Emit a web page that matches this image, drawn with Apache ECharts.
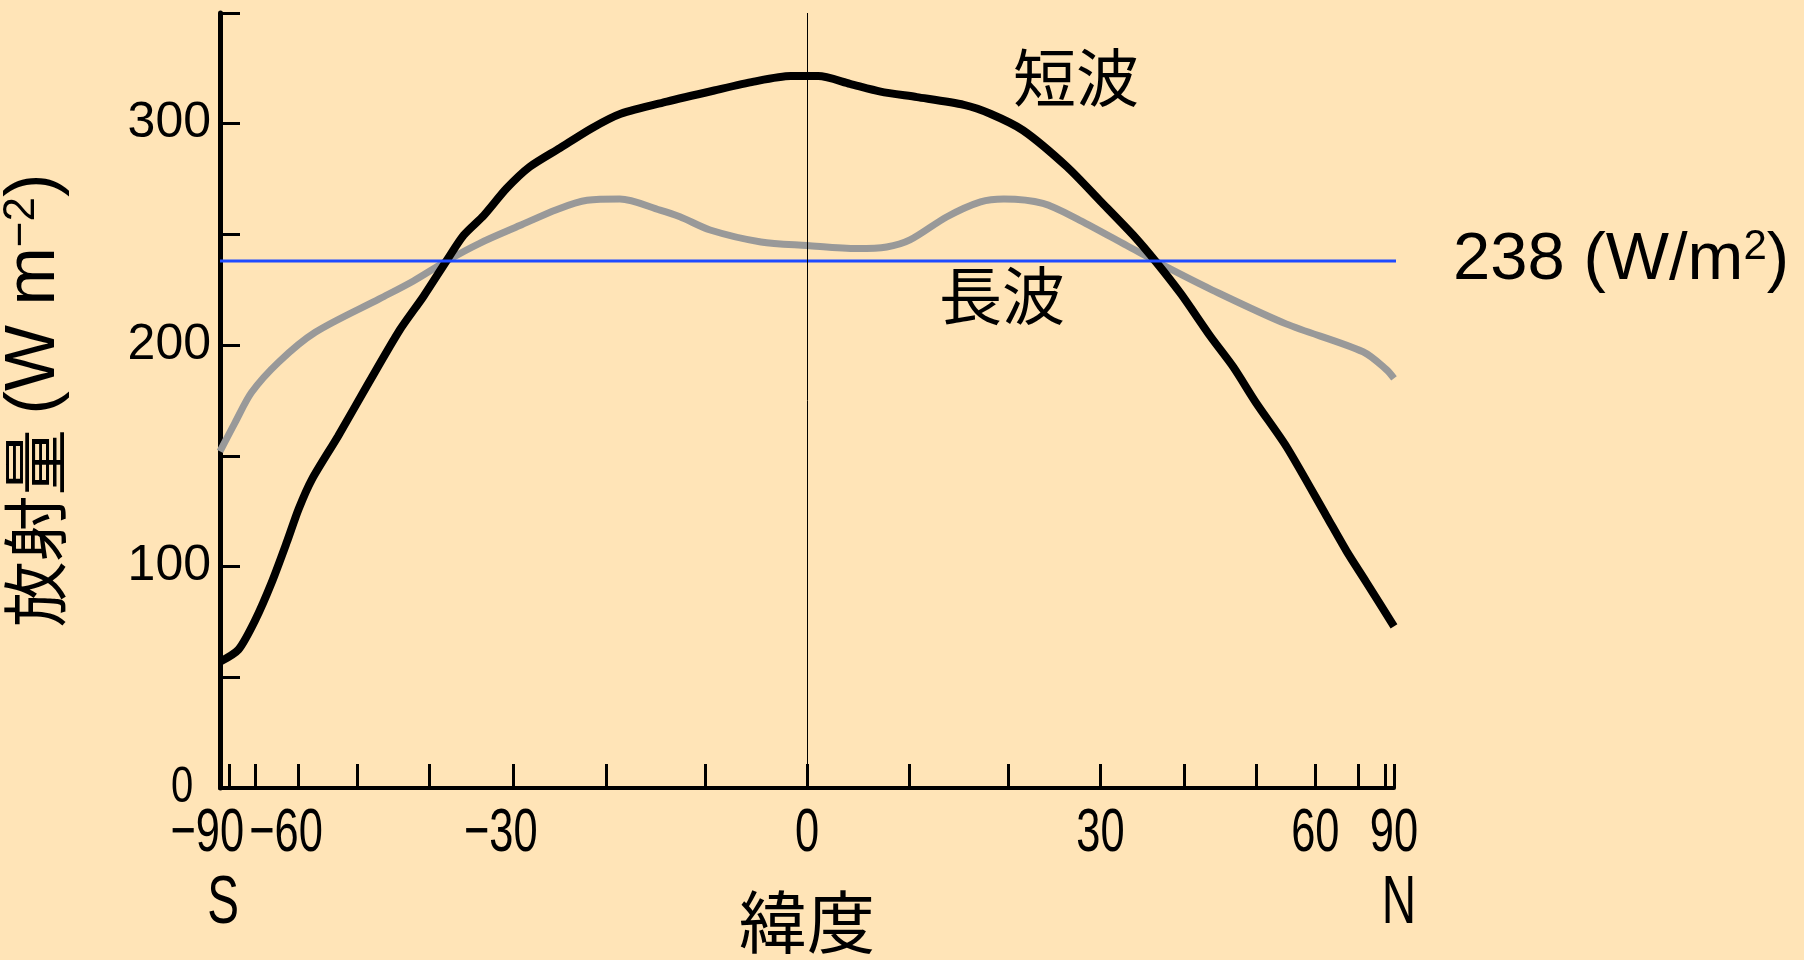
<!DOCTYPE html>
<html>
<head>
<meta charset="utf-8">
<title>緯度別の放射量</title>
<script src="https://cdn.jsdelivr.net/npm/echarts@6/dist/echarts.min.js"></script>
<style>
  html, body { margin: 0; padding: 0; background: #FFE4B7; }
  #chart { width: 1804px; height: 960px; }
</style>
</head>
<body>
<div id="chart"></div>
<script>
// Absorbed shortwave (solar) radiation by latitude, W m^-2
const shortLat = [-90, -75.6, -70, -65.8, -62.4, -60, -57.5, -53, -48.3, -43.9, -40.8, -37.9, -35.8,
  -33.4, -30.8, -28.2, -24.9, -21.5, -18.5, -13.8, -9.1, -5.2, -1.6, 1.1, 4.2, 7.2, 10.8, 15.5, 18.2,
  21.6, 26.3, 30, 33.8, 36.5, 39.6, 43.4, 46.6, 49.9, 54.8, 62.2, 66.8, 72.3, 90];
const shortVal = [57, 62.5, 76, 92.7, 111, 126, 139.4, 159, 183, 207, 222, 238, 249.6,
  258.6, 270.7, 280.5, 289, 298, 304.5, 310, 315, 319, 321.5, 321.5, 318, 314.5, 312, 308.5, 304.5,
  297, 280.5, 265, 249.5, 237.5, 223, 204, 190, 174, 154, 123, 107, 93, 73];

// Outgoing longwave radiation by latitude, W m^-2
const longLat = [-90, -77, -71.1, -64.2, -56.9, -46.7, -42.1, -37.9, -33.9, -29.3, -25.2, -22, -18.6,
  -14.5, -12.5, -9.5, -4.5, 0, 4.9, 7.8, 10.1, 13.8, 17.2, 19.6, 23.7, 27.7, 33, 37.4, 43.6, 54.7, 71.3, 80.7, 90];
const longVal = [152, 165, 178.7, 192.3, 205.8, 221, 229, 238, 246, 254, 261.3, 265.4, 266,
  261, 258, 252, 246.6, 245, 243.6, 244.3, 247.5, 258, 264.7, 266, 264, 256.4, 245, 236, 225, 209.6, 197, 189, 185];

// Global mean value, W m^-2
const globalMean = 238;

// Axis ticks and labels (latitude in degrees; y in W m^-2)
const tickLats = [-90, -80, -70, -60, -50, -40, -30, -20, -10, 0, 10, 20, 30, 40, 50, 60, 70, 80, 90];
const labelLats = [-90, -60, -30, 0, 30, 60, 90];
const yLabels = [100, 200, 300];
const yZeroLabel = 0;

// x axis is area-weighted: position = sin(latitude)
const toX = lat => Math.sin(lat * Math.PI / 180);

const shortData = shortLat.map((lat, i) => [toX(lat), shortVal[i]]);
const longData = longLat.map((lat, i) => [toX(lat), longVal[i]]);
const meanData = [[-1, globalMean], [1.014, globalMean]];

const sans = '"Liberation Sans", Arial, sans-serif';
const cjk = '"Noto Sans CJK JP", sans-serif';

const chart = echarts.init(document.getElementById('chart'), null, { renderer: 'canvas' });

chart.setOption({
  backgroundColor: '#FFE4B7',
  animation: false,
  grid: { left: 220, right: 410, top: 13, bottom: 172, containLabel: false, outerBoundsMode: 'none' },
  xAxis: {
    type: 'value',
    min: -1,
    max: 1,
    splitLine: { show: false },
    axisLine: { show: true, onZero: false, lineStyle: { color: '#000', width: 4 } },
    axisTick: {
      show: true, inside: true, length: 24,
      customValues: tickLats.map(toX),
      lineStyle: { color: '#000', width: 3 }
    },
    axisLabel: { show: false },
    name: '緯度',
    nameLocation: 'middle',
    nameGap: 100,
    nameTextStyle: { color: '#000', fontFamily: cjk, fontSize: 68 }
  },
  yAxis: {
    type: 'value',
    min: 0,
    max: 350,
    interval: 50,
    splitLine: { show: false },
    axisLine: { show: true, onZero: false, lineStyle: { color: '#000', width: 5 } },
    axisTick: { show: true, inside: true, length: 20, lineStyle: { color: '#000', width: 3 } },
    axisLabel: {
      customValues: yLabels,
      color: '#000',
      fontFamily: sans,
      fontSize: 50,
      margin: 9
    },
    name: '放射量 {l|(W m}{sup|\u22122}{l|)}',
    nameLocation: 'middle',
    nameRotate: 90,
    nameGap: 150,
    nameTextStyle: {
      color: '#000', fontFamily: cjk, fontSize: 66,
      rich: {
        l: { fontFamily: sans, fontSize: 70, color: '#000' },
        sup: { fontFamily: sans, fontSize: 44, color: '#000', verticalAlign: 'top', padding: [0, 0, 26, 0] }
      }
    }
  },
  series: [
    {
      name: '長波',
      type: 'line',
      data: longData,
      showSymbol: false,
      smooth: 0.3,
      lineStyle: { color: '#999999', width: 7 },
      silent: true
    },
    {
      name: '短波',
      type: 'line',
      data: shortData,
      showSymbol: false,
      smooth: 0.25,
      lineStyle: { color: '#000000', width: 8 },
      silent: true,
      markLine: {
        silent: true,
        symbol: ['none', 'none'],
        animation: false,
        label: { show: false },
        data: [
          { xAxis: 0, lineStyle: { color: '#000', width: 1, type: 'solid' } }
        ]
      }
    },
    {
      name: '全球平均',
      type: 'line',
      data: meanData,
      showSymbol: false,
      clip: false,
      silent: true,
      lineStyle: { color: '#1F4BFF', width: 3 },
      endLabel: {
        show: true,
        distance: 57,
        formatter: globalMean + ' (W/m{sup|2})',
        color: '#000', fontFamily: sans, fontSize: 67,
        rich: { sup: { fontFamily: sans, fontSize: 42, color: '#000', verticalAlign: 'top', padding: [0, 0, 28, 0] } }
      }
    }
  ]
});

// Condensed latitude labels, S/N and y=0 label positioned through the axes
const narrowFont = size => size + 'px "Liberation Sans", Arial, sans-serif';
const graphics = [];
labelLats.forEach(lat => {
  const p = chart.convertToPixel({ xAxisIndex: 0, yAxisIndex: 0 }, [toX(lat), 0]);
  const digits = String(Math.abs(lat));
  const digitHalf = digits.length * 0.556 * 62 * 0.7 / 2;
  graphics.push({
    type: 'text', x: lat < 0 ? p[0] + digitHalf : p[0], y: p[1] + 46, scaleX: 0.7,
    style: {
      text: (lat < 0 ? '\u2212' : '') + digits, fill: '#000', font: narrowFont(62),
      align: lat < 0 ? 'right' : 'center', verticalAlign: 'middle'
    }
  });
});
const p0 = chart.convertToPixel({ xAxisIndex: 0, yAxisIndex: 0 }, [-1, yZeroLabel]);
graphics.push({
  type: 'text', x: p0[0] - 38, y: p0[1], scaleX: 0.8,
  style: { text: String(yZeroLabel), fill: '#000', font: narrowFont(50), align: 'center', verticalAlign: 'middle' }
});
const pS = chart.convertToPixel({ xAxisIndex: 0, yAxisIndex: 0 }, [-1, 0]);
const pN = chart.convertToPixel({ xAxisIndex: 0, yAxisIndex: 0 }, [1, 0]);
graphics.push({
  type: 'text', x: pS[0] + 3, y: pS[1] + 116, scaleX: 0.7,
  style: { text: 'S', fill: '#000', font: narrowFont(68), align: 'center', verticalAlign: 'middle' }
});
graphics.push({
  type: 'text', x: pN[0] + 5, y: pN[1] + 116, scaleX: 0.7,
  style: { text: 'N', fill: '#000', font: narrowFont(68), align: 'center', verticalAlign: 'middle' }
});
graphics.push({ type: 'text', left: 1013, top: 46, style: { text: '短波', fill: '#000', font: '63px "Noto Sans CJK JP", sans-serif' } });
graphics.push({ type: 'text', left: 939, top: 264, style: { text: '長波', fill: '#000', font: '63px "Noto Sans CJK JP", sans-serif' } });

chart.setOption({ graphic: graphics });
</script>
</body>
</html>
